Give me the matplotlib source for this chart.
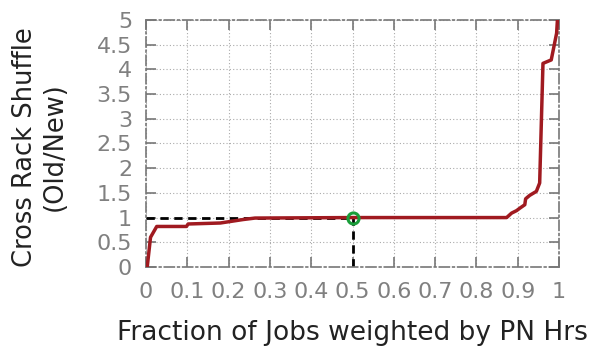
import matplotlib
matplotlib.use("Agg")
import matplotlib.pyplot as plt

plt.rcParams["font.family"] = ["DejaVu Sans"]

x_vals = [0.003, 0.011, 0.026, 0.098, 0.102, 0.18, 0.235, 0.264, 0.5, 0.873, 0.885, 0.897,
          0.905, 0.917, 0.919, 0.929, 0.945, 0.953, 0.961, 0.981, 0.994, 0.996]
y_vals = [0.0, 0.6, 0.82, 0.82, 0.87, 0.89, 0.96, 0.99, 1.0, 1.0, 1.09, 1.14,
          1.19, 1.26, 1.38, 1.45, 1.53, 1.70, 4.12, 4.19, 4.73, 5.0]
median_x = 0.5
median_y = 1.0
x_ticks = [0, 0.1, 0.2, 0.3, 0.4, 0.5, 0.6, 0.7, 0.8, 0.9, 1]
x_ticklabels = ["0", "0.1", "0.2", "0.3", "0.4", "0.5", "0.6", "0.7", "0.8", "0.9", "1"]
y_ticks = [0, 0.5, 1, 1.5, 2, 2.5, 3, 3.5, 4, 4.5, 5]
y_ticklabels = ["0", "0.5", "1", "1.5", "2", "2.5", "3", "3.5", "4", "4.5", "5"]

fig = plt.figure(figsize=(5.91, 3.49), dpi=100)
ax = fig.add_axes([0.247, 0.235, 0.699, 0.708])

ax.plot([0, median_x], [median_y, median_y], color="black", linestyle=(0, (3, 2)), lw=2, zorder=2)
ax.plot([median_x, median_x], [0, median_y], color="black", linestyle=(0, (3, 2)), lw=2, zorder=2)
ax.plot(x_vals, y_vals, color="#a01a20", lw=2.5, zorder=3)
ax.plot([median_x], [median_y], marker="o", markersize=8, markerfacecolor="none",
        markeredgecolor="#1a9e3a", markeredgewidth=2.2, zorder=4)

ax.set_xlim(0, 1)
ax.set_ylim(0, 5)
ax.set_xticks(x_ticks)
ax.set_xticklabels(x_ticklabels)
ax.set_yticks(y_ticks)
ax.set_yticklabels(y_ticklabels)
ax.grid(True, linestyle=(0, (1, 2)), color="#aaaaaa", lw=0.8)
ax.tick_params(direction="in", length=7, width=1.2, color="#777777", labelcolor="#808080",
               labelsize=16, top=True, right=True)
ax.tick_params(axis="x", pad=11)
ax.tick_params(axis="y", pad=10)
for s in ax.spines.values():
    s.set_linestyle((0, (6, 2, 1, 2)))
    s.set_color("#777777")
    s.set_linewidth(1.2)

ax.set_xlabel("Fraction of Jobs weighted by PN Hrs", fontsize=19, color="#222222")
ax.set_ylabel("Cross Rack Shuffle\n(Old/New)", fontsize=18.5, color="#222222")
ax.xaxis.set_label_coords(0.5, -0.215)
ax.yaxis.set_label_coords(-0.189, 0.486)

fig.savefig("out.png", dpi=100)
